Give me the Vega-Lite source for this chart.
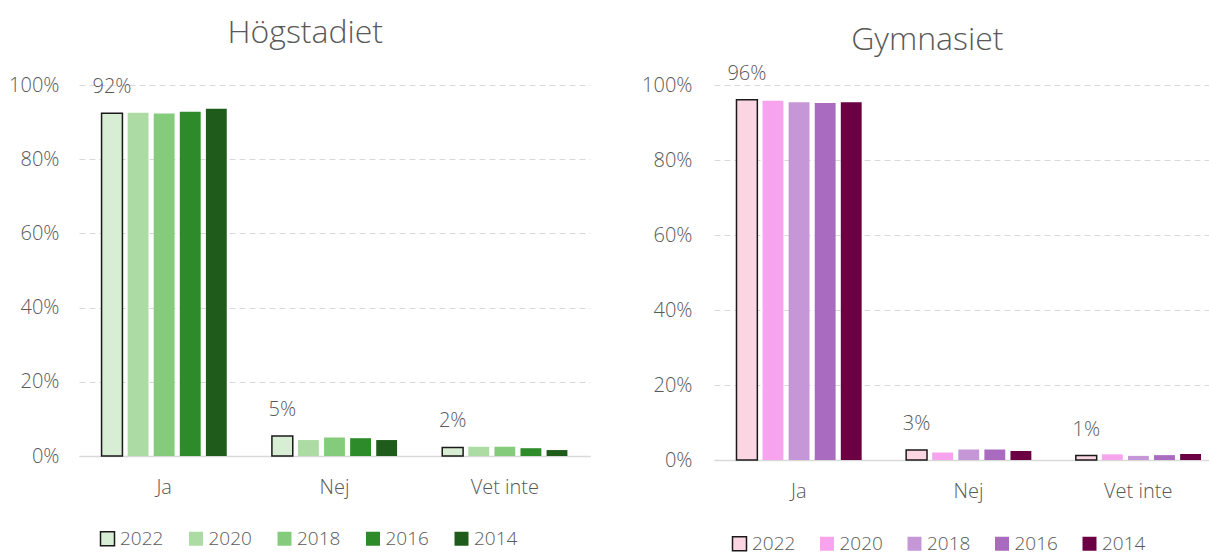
{
  "$schema": "https://vega.github.io/schema/vega-lite/v6.json",
  "padding": {"left": 8, "top": 17, "right": 0, "bottom": 10},
  "background": "white",
  "config": {
    "view": {"stroke": null},
    "font": "Open Sans",
    "concat": {"spacing": 124}
  },
  "bounds": "flush",
  "datasets": {
    "rows": [
      {"panel": "Högstadiet", "cat": "Ja", "year": "2022", "value": 0.924},
      {"panel": "Högstadiet", "cat": "Ja", "year": "2020", "value": 0.925},
      {"panel": "Högstadiet", "cat": "Ja", "year": "2018", "value": 0.923},
      {"panel": "Högstadiet", "cat": "Ja", "year": "2016", "value": 0.928},
      {"panel": "Högstadiet", "cat": "Ja", "year": "2014", "value": 0.936},
      {"panel": "Högstadiet", "cat": "Nej", "year": "2022", "value": 0.054},
      {"panel": "Högstadiet", "cat": "Nej", "year": "2020", "value": 0.043},
      {"panel": "Högstadiet", "cat": "Nej", "year": "2018", "value": 0.050},
      {"panel": "Högstadiet", "cat": "Nej", "year": "2016", "value": 0.048},
      {"panel": "Högstadiet", "cat": "Nej", "year": "2014", "value": 0.043},
      {"panel": "Högstadiet", "cat": "Vet inte", "year": "2022", "value": 0.023},
      {"panel": "Högstadiet", "cat": "Vet inte", "year": "2020", "value": 0.025},
      {"panel": "Högstadiet", "cat": "Vet inte", "year": "2018", "value": 0.025},
      {"panel": "Högstadiet", "cat": "Vet inte", "year": "2016", "value": 0.021},
      {"panel": "Högstadiet", "cat": "Vet inte", "year": "2014", "value": 0.016},
      {"panel": "Gymnasiet", "cat": "Ja", "year": "2022", "value": 0.961},
      {"panel": "Gymnasiet", "cat": "Ja", "year": "2020", "value": 0.958},
      {"panel": "Gymnasiet", "cat": "Ja", "year": "2018", "value": 0.954},
      {"panel": "Gymnasiet", "cat": "Ja", "year": "2016", "value": 0.952},
      {"panel": "Gymnasiet", "cat": "Ja", "year": "2014", "value": 0.954},
      {"panel": "Gymnasiet", "cat": "Nej", "year": "2022", "value": 0.027},
      {"panel": "Gymnasiet", "cat": "Nej", "year": "2020", "value": 0.020},
      {"panel": "Gymnasiet", "cat": "Nej", "year": "2018", "value": 0.028},
      {"panel": "Gymnasiet", "cat": "Nej", "year": "2016", "value": 0.028},
      {"panel": "Gymnasiet", "cat": "Nej", "year": "2014", "value": 0.024},
      {"panel": "Gymnasiet", "cat": "Vet inte", "year": "2022", "value": 0.012},
      {"panel": "Gymnasiet", "cat": "Vet inte", "year": "2020", "value": 0.015},
      {"panel": "Gymnasiet", "cat": "Vet inte", "year": "2018", "value": 0.011},
      {"panel": "Gymnasiet", "cat": "Vet inte", "year": "2016", "value": 0.013},
      {"panel": "Gymnasiet", "cat": "Vet inte", "year": "2014", "value": 0.016}
    ]
  },
  "data": {"name": "rows"},
  "resolve": {"scale": {"fill": "independent", "stroke": "independent", "y": "independent", "x": "independent"}, "legend": {"fill": "independent", "stroke": "independent"}},
  "hconcat": [
    {
      "width": 511,
      "height": 371,
      "title": {"text": "Högstadiet", "fontSize": 32, "font": "Open Sans", "fontWeight": 300, "color": "#595959", "anchor": "middle", "frame": "bounds", "offset": 25, "dx": 6},
      "transform": [{"filter": "datum.panel == 'Högstadiet'"}],
      "layer": [
        {
          "mark": {"type": "bar", "strokeWidth": 1.5},
          "encoding": {
            "x": {"field": "cat", "type": "nominal", "sort": ["Ja", "Nej", "Vet inte"], "scale": {"paddingInner": 0.265, "paddingOuter": 0.1325},
              "axis": {"title": null, "labelAngle": 0, "ticks": false, "domainColor": "#d9d9d9", "domainWidth": 1.5, "labelFontSize": 20, "labelFontWeight": 300, "labelColor": "#595959", "labelFont": "Open Sans", "labelPadding": 21}},
            "xOffset": {"field": "year", "type": "nominal", "sort": ["2022", "2020", "2018", "2016", "2014"], "scale": {"paddingInner": 0.2, "paddingOuter": 0}},
            "y": {"field": "value", "type": "quantitative", "scale": {"domain": [0, 1]},
              "axis": {"title": null, "format": ".0%", "values": [0, 0.2, 0.4, 0.6, 0.8, 1], "domain": false, "ticks": false, "gridDash": [6, 4], "gridColor": "#d9d9d9", "gridWidth": 1.2, "labelFontSize": 20, "labelFontWeight": 300, "labelColor": "#595959", "labelFont": "Open Sans", "labelPadding": 20}},
            "fill": {"field": "year", "type": "nominal", "sort": ["2022", "2020", "2018", "2016", "2014"],
              "scale": {"domain": ["2022", "2020", "2018", "2016", "2014"], "range": ["#d8eed4", "#acdca4", "#84cc7c", "#2e8b2a", "#1f5c1b"]},
              "legend": {"orient": "none", "legendX": 19, "legendY": 444, "direction": "horizontal", "columns": 5, "title": null, "symbolType": "square", "symbolSize": 196, "symbolStrokeWidth": 1.5, "labelFontSize": 19, "labelFontWeight": 300, "labelColor": "#595959", "labelFont": "Open Sans", "labelOffset": 3, "columnPadding": 21.5}},
            "stroke": {"field": "year", "type": "nominal", "sort": ["2022", "2020", "2018", "2016", "2014"],
              "scale": {"domain": ["2022", "2020", "2018", "2016", "2014"], "range": ["#1a1a1a", "transparent", "transparent", "transparent", "transparent"]},
              "legend": {"orient": "none", "legendX": 19, "legendY": 444, "direction": "horizontal", "columns": 5, "title": null, "symbolType": "square", "symbolSize": 196, "symbolStrokeWidth": 1.5, "labelFontSize": 19, "labelFontWeight": 300, "labelColor": "#595959", "labelFont": "Open Sans", "labelOffset": 3, "columnPadding": 21.5}}
          }
        },
        {
          "transform": [{"filter": "datum.year == '2022'"}],
          "mark": {"type": "text", "baseline": "alphabetic", "dy": -20, "fontSize": 20, "fontWeight": 300, "font": "Open Sans", "color": "#595959"},
          "encoding": {
            "x": {"field": "cat", "type": "nominal", "sort": ["Ja", "Nej", "Vet inte"]},
            "xOffset": {"field": "year", "type": "nominal", "sort": ["2022", "2020", "2018", "2016", "2014"]},
            "y": {"field": "value", "type": "quantitative"},
            "text": {"field": "value", "type": "quantitative", "format": ".0%"}
          }
        }
      ]
    },
    {
      "width": 509,
      "height": 375,
      "title": {"text": "Gymnasiet", "fontSize": 32, "font": "Open Sans", "fontWeight": 300, "color": "#595959", "anchor": "middle", "frame": "bounds", "offset": 25, "dx": -5, "dy": 18},
      "transform": [{"filter": "datum.panel == 'Gymnasiet'"}],
      "layer": [
        {
          "mark": {"type": "bar", "strokeWidth": 1.5},
          "encoding": {
            "x": {"field": "cat", "type": "nominal", "sort": ["Ja", "Nej", "Vet inte"], "scale": {"paddingInner": 0.265, "paddingOuter": 0.1325},
              "axis": {"title": null, "labelAngle": 0, "ticks": false, "domainColor": "#d9d9d9", "domainWidth": 1.5, "labelFontSize": 20, "labelFontWeight": 300, "labelColor": "#595959", "labelFont": "Open Sans", "labelPadding": 21}},
            "xOffset": {"field": "year", "type": "nominal", "sort": ["2022", "2020", "2018", "2016", "2014"], "scale": {"paddingInner": 0.2, "paddingOuter": 0}},
            "y": {"field": "value", "type": "quantitative", "scale": {"domain": [0, 1]},
              "axis": {"title": null, "format": ".0%", "values": [0, 0.2, 0.4, 0.6, 0.8, 1], "domain": false, "ticks": false, "gridDash": [6, 4], "gridColor": "#d9d9d9", "gridWidth": 1.2, "labelFontSize": 20, "labelFontWeight": 300, "labelColor": "#595959", "labelFont": "Open Sans", "labelPadding": 22}},
            "fill": {"field": "year", "type": "nominal", "sort": ["2022", "2020", "2018", "2016", "2014"],
              "scale": {"domain": ["2022", "2020", "2018", "2016", "2014"], "range": ["#fcd5e2", "#f7a3ee", "#c597d6", "#a96bbf", "#6b0042"]},
              "legend": {"orient": "none", "legendX": 16, "legendY": 449, "direction": "horizontal", "columns": 5, "title": null, "symbolType": "square", "symbolSize": 196, "symbolStrokeWidth": 1.5, "labelFontSize": 19, "labelFontWeight": 300, "labelColor": "#595959", "labelFont": "Open Sans", "labelOffset": 3, "columnPadding": 20.5}},
            "stroke": {"field": "year", "type": "nominal", "sort": ["2022", "2020", "2018", "2016", "2014"],
              "scale": {"domain": ["2022", "2020", "2018", "2016", "2014"], "range": ["#1a1a1a", "transparent", "transparent", "transparent", "transparent"]},
              "legend": {"orient": "none", "legendX": 16, "legendY": 449, "direction": "horizontal", "columns": 5, "title": null, "symbolType": "square", "symbolSize": 196, "symbolStrokeWidth": 1.5, "labelFontSize": 19, "labelFontWeight": 300, "labelColor": "#595959", "labelFont": "Open Sans", "labelOffset": 3, "columnPadding": 20.5}}
          }
        },
        {
          "transform": [{"filter": "datum.year == '2022'"}],
          "mark": {"type": "text", "baseline": "alphabetic", "dy": -20, "fontSize": 20, "fontWeight": 300, "font": "Open Sans", "color": "#595959"},
          "encoding": {
            "x": {"field": "cat", "type": "nominal", "sort": ["Ja", "Nej", "Vet inte"]},
            "xOffset": {"field": "year", "type": "nominal", "sort": ["2022", "2020", "2018", "2016", "2014"]},
            "y": {"field": "value", "type": "quantitative"},
            "text": {"field": "value", "type": "quantitative", "format": ".0%"}
          }
        }
      ]
    }
  ]
}
